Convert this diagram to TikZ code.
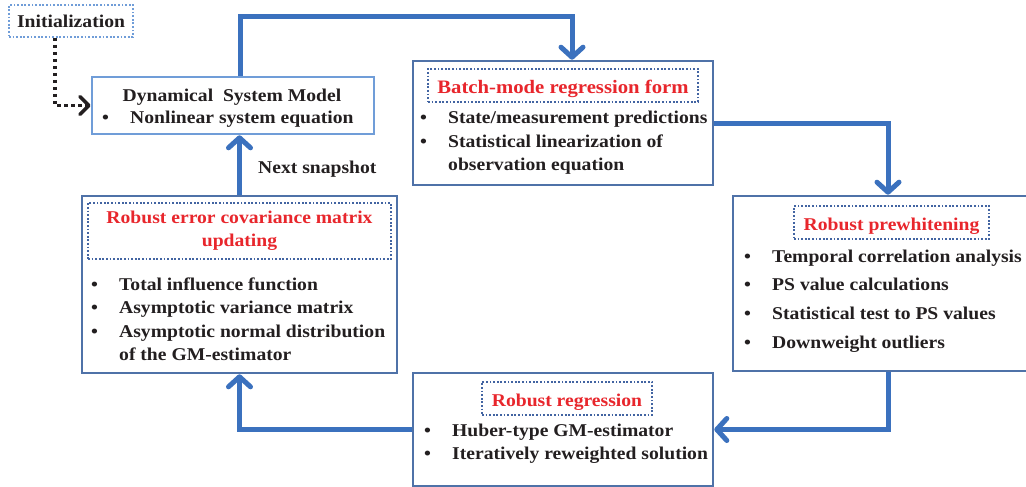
\documentclass[tikz,border=0pt]{standalone}
\usepackage{fontspec}
\setmainfont[FakeStretch=1.09]{Liberation Serif}
\usetikzlibrary{arrows.meta,positioning}
\definecolor{flowBlue}{RGB}{59,113,190}
\definecolor{flowFrame}{RGB}{79,114,168}
\definecolor{flowLight}{RGB}{112,157,216}
\definecolor{flowDot}{RGB}{66,100,162}
\definecolor{flowRed}{RGB}{232,38,44}
\definecolor{flowInk}{RGB}{35,31,32}
\newcommand{\steplist}[1]{\begin{tabular}[t]{@{}p{28pt}@{}l@{}}#1\end{tabular}}

\begin{document}
\begin{tikzpicture}[
  x=1pt, y=-1pt,
  every node/.style={font=\fontsize{18}{23.5}\selectfont\bfseries, text=flowInk},
  stage/.style={draw=flowFrame, line width=2.6pt, inner sep=0pt},
  heading/.style={draw=flowDot, line width=1.8pt, dash pattern=on 1.8pt off 1.8pt,
                  text=flowRed, inner sep=0pt},
  items/.style={anchor=base west, inner sep=0pt},
  link/.style={draw=flowBlue, line width=5pt, line join=miter,
               -{Straight Barb[length=10pt,width=22pt,round]}},
  seed/.style={draw=flowInk, line width=3.5pt, dash pattern=on 3.5pt off 3.5pt,
               -{Straight Barb[length=9pt,width=18pt,round]}}
]
\fill[white] (0,0) rectangle (1026,487);
\useasboundingbox (0,0) rectangle (1026,487);

% boxes
\node[draw=flowLight, line width=1.8pt, dash pattern=on 1.8pt off 1.8pt, inner sep=0pt,
      minimum width=124pt, minimum height=32pt] (init) at (71,21) {Initialization};
\node[stage, draw=flowLight, minimum width=282pt, minimum height=57pt] (dyn) at (233,105.5) {};
\node[stage, minimum width=300pt, minimum height=124pt] (batch) at (563,123) {};
\node[stage, minimum width=296pt, minimum height=175pt] (prewhite) at (881,283.5) {};
\node[stage, minimum width=300pt, minimum height=113pt] (regress) at (563,429.5) {};
\node[stage, minimum width=315pt, minimum height=177pt] (covar) at (239.5,284.5) {};

% headings
\node[anchor=base, inner sep=0pt] (dyntitle) at (232,101) {Dynamical~ System Model};
\node[heading, anchor=base, text height=24pt, text depth=9pt, minimum width=270pt,
      font=\fontsize{19}{23.5}\selectfont\bfseries]
  (batchtitle) at (563,93) {Batch-mode regression form};
\node[heading, anchor=base, text height=24pt, text depth=9pt, minimum width=195pt]
  (prewhitetitle) at (891.5,230) {Robust prewhitening};
\node[heading, anchor=base, text height=24pt, text depth=9pt, minimum width=170pt]
  (regresstitle) at (567,406) {Robust regression};
\node[heading, align=center, minimum width=303pt, minimum height=56pt,
      font=\fontsize{18}{23}\selectfont\bfseries]
  (covartitle) at (239.5,231) {Robust error covariance matrix\\updating};

% item lists
\node[items] (dynlist) at (102,123) {\steplist{\textbullet & Nonlinear system equation}};
\node[items] (batchlist) at (420,124) {\steplist{%
  \textbullet & State/measurement predictions\\
  \textbullet & Statistical linearization of\\
              & observation equation}};
\node[items] (prewhitelist) at (744,262) {\renewcommand{\arraystretch}{1.22}\steplist{%
  \textbullet & Temporal correlation analysis\\
  \textbullet & PS value calculations\\
  \textbullet & Statistical test to PS values\\
  \textbullet & Downweight outliers}};
\node[items] (regresslist) at (424,436) {\steplist{%
  \textbullet & Huber-type GM-estimator\\
  \textbullet & Iteratively reweighted solution}};
\node[items] (covarlist) at (91,290) {\steplist{%
  \textbullet & Total influence function\\
  \textbullet & Asymptotic variance matrix\\
  \textbullet & Asymptotic normal distribution\\
              & of the GM-estimator}};
\node[items] (snap) at (258,173) {Next snapshot};

% connectors
\draw[seed] ([xshift=-16pt]init.south) |- (dyn.west);
\draw[link] ([xshift=7pt]dyn.north) -- ++(0,-59) -| ([xshift=9pt]batch.north);
\draw[link] (batch.east) -| ([xshift=7pt]prewhite.north);
\draw[link] ([xshift=7pt]prewhite.south) |- (regress.east);
\draw[link] (regress.west) -| (covar.south);
\draw[link] (covar.north) -- (covar.north |- dyn.south);
\end{tikzpicture}
\end{document}
